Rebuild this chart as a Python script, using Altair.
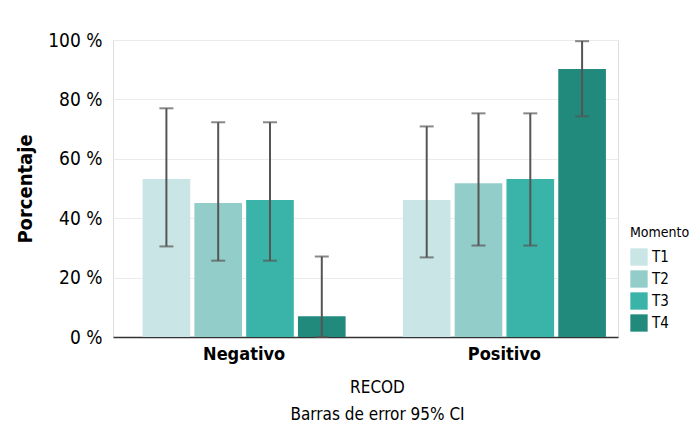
import altair as alt
import pandas as pd

# Porcentaje por momento y categoría RECOD, con IC 95%
categorias = ["Negativo", "Positivo"]
momentos = ["T1", "T2", "T3", "T4"]
porcentaje_neg = [53.2, 45.1, 46.1, 7.0]
porcentaje_pos = [46.1, 51.8, 53.2, 90.2]
inferior_neg = [30.5, 25.7, 25.7, 0.0]
superior_neg = [77.0, 72.3, 72.3, 27.1]
inferior_pos = [26.8, 30.8, 30.8, 74.3]
superior_pos = [70.9, 75.3, 75.3, 99.6]
colores = ["#c9e5e5", "#93cdca", "#3ab4a9", "#218a7d"]
ticks_y = [0, 20, 40, 60, 80, 100]

rows = []
for cat, vals, lo, hi in [
    ("Negativo", porcentaje_neg, inferior_neg, superior_neg),
    ("Positivo", porcentaje_pos, inferior_pos, superior_pos),
]:
    for m, v, l, h in zip(momentos, vals, lo, hi):
        rows.append({"RECOD": cat, "Momento": m, "valor": v, "lo": l, "hi": h})
df = pd.DataFrame(rows)

FONT = "DejaVu Sans Condensed, DejaVu Sans, sans-serif"

x_enc = alt.X(
    "RECOD:N",
    sort=categorias,
    scale=alt.Scale(paddingInner=0.22, paddingOuter=0.08, align=0.71),
    axis=alt.Axis(
        title=["RECOD", "Barras de error 95% CI"],
        titleFont=FONT,
        titleFontSize=17,
        titleFontWeight="normal",
        titleColor="black",
        titlePadding=16,
        titleX=264,
        titleLineHeight=27,
        labelFont=FONT,
        labelFontSize=18,
        labelFontWeight="bold",
        labelColor="black",
        labelAngle=0,
        labelPadding=8,
        ticks=False,
        domainColor="#333333",
        domainWidth=1.5,
        grid=False,
    ),
)
xo_enc = alt.XOffset("Momento:N", sort=momentos, scale=alt.Scale(paddingInner=0.08))

base = alt.Chart(df)

bars = base.mark_bar().encode(
    x=x_enc,
    xOffset=xo_enc,
    y=alt.Y(
        "valor:Q",
        scale=alt.Scale(domain=[0, 100], nice=False),
        axis=alt.Axis(
            title="Porcentaje",
            titleFont=FONT,
            titleFontSize=20,
            titleFontWeight="bold",
            titleColor="black",
            titlePadding=12,
            values=ticks_y,
            labelExpr="datum.value + ' %'",
            labelFont=FONT,
            labelFontSize=19,
            labelColor="black",
            labelPadding=11,
            ticks=False,
            domain=False,
            gridColor="#ebebeb",
            gridWidth=1,
        ),
    ),
    color=alt.Color(
        "Momento:N",
        sort=momentos,
        scale=alt.Scale(domain=momentos, range=colores),
        legend=alt.Legend(
            title="Momento",
            titleFont=FONT,
            titleFontSize=14,
            titleFontWeight="normal",
            titleColor="black",
            titlePadding=8,
            labelFont=FONT,
            labelFontSize=15,
            labelColor="black",
            symbolType="square",
            symbolSize=300,
            symbolStrokeWidth=0,
            rowPadding=4,
            orient="none",
            legendX=517,
            legendY=186,
        ),
    ),
)

rules = base.mark_rule(color="#555555", strokeWidth=2).encode(
    x=x_enc, xOffset=xo_enc, y="lo:Q", y2="hi:Q"
)
caps_hi = base.mark_tick(color="#555555", thickness=2, size=14, orient="horizontal").encode(
    x=x_enc, xOffset=xo_enc, y="hi:Q"
)
caps_lo = base.mark_tick(color="#555555", thickness=2, size=14, orient="horizontal").encode(
    x=x_enc, xOffset=xo_enc, y="lo:Q"
)

chart = (
    alt.layer(bars, rules, caps_hi, caps_lo)
    .properties(
        width=505,
        height=297,
        autosize=alt.AutoSizeParams(type="none"),
        padding={"left": 113, "top": 40, "right": 72, "bottom": 93},
    )
    .configure_view(stroke=None)
    .configure(background="white")
)

chart.save("out.html", embed_options={"renderer": "svg", "actions": False})
